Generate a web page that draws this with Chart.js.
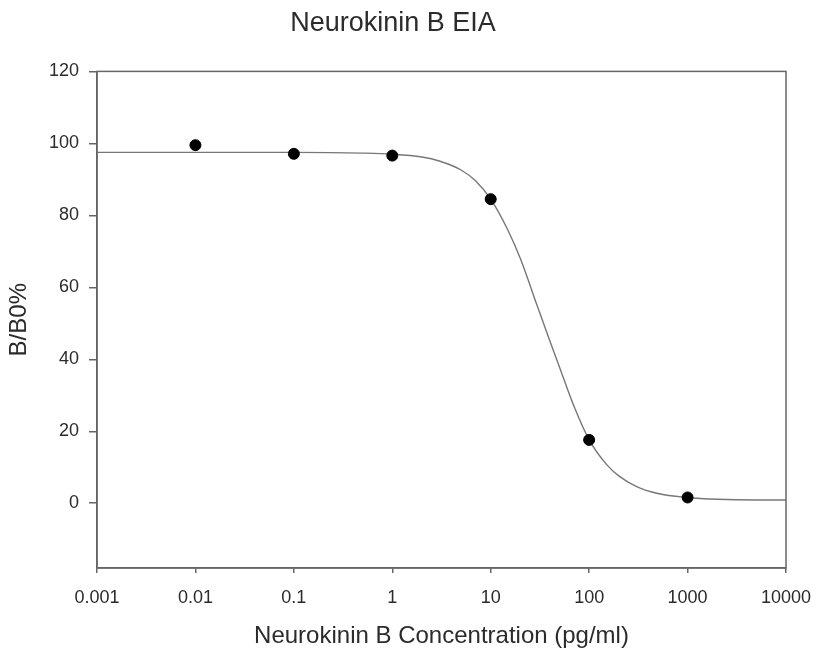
<!DOCTYPE html>
<html>
<head>
<meta charset="utf-8">
<script src="https://cdn.jsdelivr.net/npm/chart.js@4/dist/chart.umd.min.js"></script>
<style>
  html, body { margin: 0; padding: 0; background: #fff; }
  #wrap { width: 819px; height: 651px; }
</style>
</head>
<body>
<div id="wrap"><canvas id="eiaChart" width="819" height="651"></canvas></div>
<script>
// measured standards
var conc = [0.01, 0.1, 1, 10, 100, 1000];
var bb0 = [99.5, 97.1, 96.6, 84.5, 17.6, 1.6];

// fitted curve
var fitX = [0.001, 0.01, 0.1, 0.5, 1, 2, 3, 5, 7, 10, 15, 20, 30, 40, 50, 70, 100, 150, 200, 300, 500, 1000, 2000, 5000, 10000];
var fitY = [97.5, 97.5, 97.5, 97.3, 97.0, 96.2, 95.1, 92.6, 89.6, 84.5, 75.8, 68.0, 54.5, 45.0, 37.8, 27.0, 17.6, 10.8, 7.6, 4.7, 2.7, 1.6, 1.1, 0.9, 0.9];

var xTicks = [0.001, 0.01, 0.1, 1, 10, 100, 1000, 10000];
var yTicks = [0, 20, 40, 60, 80, 100, 120];

var axisColor = '#666';
var textColor = '#2b2b2b';
var fontFam = '"Liberation Sans", Arial, sans-serif';

var curvePts = [];
for (var i = 0; i < fitX.length; i++) {
    curvePts.push({ x: fitX[i], y: fitY[i] });
}
var dataPts = [];
for (var i = 0; i < conc.length; i++) {
    dataPts.push({ x: conc[i], y: bb0[i] });
}

// box around the plot area (top and right sides)
var frame = {
    id: 'frame',
    afterDatasetsDraw: function (chart) {
        var a = chart.chartArea;
        var c = chart.ctx;
        c.save();
        c.strokeStyle = axisColor;
        c.lineWidth = 1.5;
        c.strokeRect(a.left, a.top, a.right - a.left, a.bottom - a.top);
        c.restore();
    }
};

var ctx = document.getElementById('eiaChart');
var eiaChart = new Chart(ctx, {
    type: 'scatter',
    data: {
        datasets: [{
            data: dataPts,
            pointRadius: 5.5,
            pointBackgroundColor: '#000',
            pointBorderColor: '#000',
            showLine: false,
            order: 1
        }, {
            data: curvePts,
            showLine: true,
            pointRadius: 0,
            borderColor: '#777',
            borderWidth: 1.4,
            cubicInterpolationMode: 'monotone',
            order: 2
        }]
    },
    options: {
        responsive: false,
        animation: false,
        layout: { padding: { left: 0, right: 33, top: 0, bottom: 0 } },
        plugins: {
            legend: { display: false },
            tooltip: { enabled: false },
            title: {
                display: true,
                text: 'Neurokinin B EIA',
                color: textColor,
                font: { family: fontFam, size: 27, weight: 'normal' },
                padding: { top: 7, bottom: 32 }
            }
        },
        scales: {
            x: {
                type: 'logarithmic',
                min: 0.001,
                max: 10000,
                afterBuildTicks: function (s) {
                    s.ticks = xTicks.map(function (v) { return { value: v }; });
                },
                afterFit: function (s) {
                    s.height = 83;
                    s.paddingLeft = 0;
                    s.paddingRight = 0;
                },
                ticks: {
                    color: textColor,
                    font: { family: fontFam, size: 18 },
                    padding: 14,
                    maxRotation: 0,
                    autoSkip: false,
                    callback: function (v) { return String(v); }
                },
                grid: {
                    drawOnChartArea: false,
                    drawTicks: true,
                    tickLength: 5,
                    color: axisColor,
                    lineWidth: 1.5
                },
                border: { display: true, color: axisColor, width: 1.5 },
                title: {
                    display: true,
                    text: 'Neurokinin B Concentration (pg/ml)',
                    color: textColor,
                    font: { family: fontFam, size: 24 },
                    padding: 0
                }
            },
            y: {
                min: -18,
                max: 120,
                afterBuildTicks: function (s) {
                    s.ticks = yTicks.map(function (v) { return { value: v }; });
                },
                afterFit: function (s) {
                    s.width = 97;
                    s.paddingTop = 0;
                    s.paddingBottom = 0;
                },
                ticks: {
                    color: textColor,
                    font: { family: fontFam, size: 18 },
                    padding: 10
                },
                grid: {
                    drawOnChartArea: false,
                    drawTicks: true,
                    tickLength: 8,
                    color: axisColor,
                    lineWidth: 1.5
                },
                border: { display: true, color: axisColor, width: 1.5 },
                title: {
                    display: true,
                    text: 'B/B0%',
                    color: textColor,
                    font: { family: fontFam, size: 24 },
                    padding: { top: 5, bottom: 0 }
                }
            }
        }
    },
    plugins: [frame]
});
</script>
</body>
</html>
